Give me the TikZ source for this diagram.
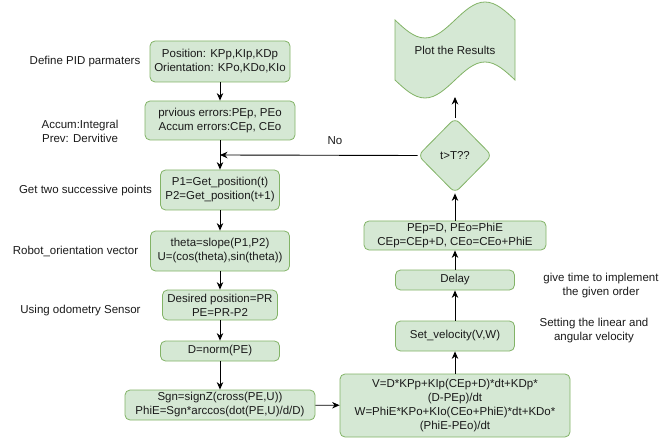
\documentclass[tikz,border=0pt]{standalone}
\usepackage{fontspec}
\setmainfont{Liberation Sans}
\usetikzlibrary{arrows.meta,shapes.geometric}
\definecolor{gfill}{HTML}{D5E8D4}
\definecolor{gdraw}{HTML}{82B366}
\definecolor{txt}{HTML}{1A1A1A}
\begin{document}
\begin{tikzpicture}[x=1pt,y=-1pt,
  every node/.style={font=\fontsize{11.5}{14}\selectfont, text=txt, align=center},
  box/.style={draw=gdraw, fill=gfill, rounded corners=5pt, inner sep=0pt, line width=0.8pt},
  lbl/.style={inner sep=0pt},
  arr/.style={line width=0.9pt, -{Stealth[length=7.5pt,width=6.5pt]}}]
\useasboundingbox (0,0) rectangle (671,438);
% left column
\node[box, minimum width=140pt, minimum height=41pt] (b1) at (220,61.5) {Position: KPp,KIp,KDp\\Orientation: KPo,KDo,KIo};
\node[box, minimum width=150pt, minimum height=39pt] (b2) at (220,120.5) {prvious errors:PEp, PEo\\Accum errors:CEp, CEo};
\node[box, minimum width=119pt, minimum height=40pt] (b3) at (220,190) {P1=Get\_position(t)\\P2=Get\_position(t+1)};
\node[box, minimum width=139pt, minimum height=40pt] (b4) at (220,251) {theta=slope(P1,P2)\\U=(cos(theta),sin(theta))};
\node[box, minimum width=115pt, minimum height=30pt] (b5) at (220,305) {Desired position=PR\\PE=PR-P2};
\node[box, minimum width=119pt, minimum height=20pt] (b6) at (220,351) {D=norm(PE)};
\node[box, minimum width=190pt, minimum height=30pt] (b7) at (220,405) {Sgn=signZ(cross(PE,U))\\PhiE=Sgn*arccos(dot(PE,U)/d/D)};
% right column
\node[box, minimum width=230pt, minimum height=63pt] (b8) at (455,405.5) {V=D*KPp+KIp(CEp+D)*dt+KDp*\\(D-PEp)/dt\\W=PhiE*KPo+KIo(CEo+PhiE)*dt+KDo*\\(PhiE-PEo)/dt};
\node[box, minimum width=119pt, minimum height=30pt] (b9) at (455,336) {Set\_velocity(V,W)};
\node[box, minimum width=119pt, minimum height=20pt] (b10) at (455,280) {Delay};
\node[box, minimum width=182pt, minimum height=29pt] (b11) at (455,235.5) {PEp=D, PEo=PhiE\\CEp=CEp+D, CEo=CEo+PhiE};
\node[box, diamond, aspect=1, minimum width=74pt, minimum height=75pt, rounded corners=6pt] (dec) at (455,155.5) {t>T??};
% tape shape
\draw[draw=gdraw, fill=gfill, line width=0.8pt] (395,20) sin (425,38) cos (455,20) sin (485,2) cos (515,20)
  -- (515,80) sin (485,62) cos (455,80) sin (425,98) cos (395,80) -- cycle;
\node[lbl] (plot) at (455,50) {Plot the Results};
\coordinate (plotb) at (455,97);
\coordinate (m) at (220,155);
% labels
\node[lbl] (l1) at (85,62) {Define PID parmaters};
\node[lbl] (l2) at (80,131) {Accum:Integral\\Prev: Dervitive};
\node[lbl] (l3) at (85.5,191) {Get two successive points};
\node[lbl] (l4) at (75.5,251) {Robot\_orientation vector};
\node[lbl] (l5) at (80.5,311) {Using odometry Sensor};
\node[lbl] (l6) at (601,286) {give time to implement\\the given order};
\node[lbl] (l7) at (594,330.5) {Setting the linear and\\angular velocity};
\node[lbl] (no) at (335,141) {No};
% arrows
\draw[arr] (b1) -- (b2);
\draw[arr] (b2) -- (b3);
\draw[arr] (b3) -- (b4);
\draw[arr] (b4) -- (b5);
\draw[arr] (b5) -- (b6);
\draw[arr] (b6) -- (b7);
\draw[arr] (b7) -- (b8);
\draw[arr] (b8) -- (b9);
\draw[arr] (b9) -- (b10);
\draw[arr] (b10) -- (b11);
\draw[arr] (b11) -- (dec);
\draw[arr] (dec.north) -- (plotb);
\draw[arr] (dec.west) -- (m);
\end{tikzpicture}
\end{document}
